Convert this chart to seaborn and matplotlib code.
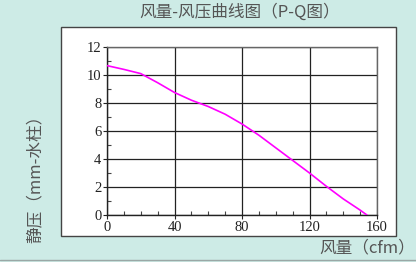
import matplotlib
matplotlib.use("Agg")
import matplotlib.pyplot as plt
import seaborn as sns
import pandas as pd
from matplotlib.patches import Rectangle
from matplotlib.lines import Line2D
from matplotlib.ticker import MultipleLocator

# Data
flow_cfm = [0, 10, 20, 30, 40, 50, 60, 70, 80, 90, 100, 110, 120, 130, 140, 150, 154]
pressure_mm = [10.67, 10.4, 10.1, 9.45, 8.75, 8.2, 7.75, 7.2, 6.5, 5.7, 4.8, 3.9, 3.0, 2.05, 1.15, 0.35, 0.0]
x_ticks = [0, 40, 80, 120, 160]
y_ticks = [0, 2, 4, 6, 8, 10, 12]
title = "风量-风压曲线图（P-Q图）"
xlabel = "风量（cfm）"
ylabel = "静压（mm-水柱）"

sns.set_style("white")
plt.rcParams['font.family'] = ['Noto Sans CJK SC', 'DejaVu Sans']

bg = "#cdebe6"
W, H = 416, 262
fig = plt.figure(figsize=(W / 100, H / 100), dpi=100, facecolor=bg)

# white panel
fig.patches.append(Rectangle((61 / W, 1 - 236 / H), (396 - 61) / W, (236 - 27) / H,
                             transform=fig.transFigure, facecolor="white",
                             edgecolor="#444444", linewidth=1.0, zorder=-1))
fig.lines.append(Line2D([0, 1], [1 - 259.5 / H, 1 - 259.5 / H], transform=fig.transFigure,
                        color="#9aa8a6", linewidth=1.0, zorder=-1))

ax = fig.add_axes([107 / W, 1 - 215 / H, (377 - 107) / W, (215 - 47) / H])
ax.set_zorder(2)
ax.set_facecolor("white")

df = pd.DataFrame({"Q": flow_cfm, "P": pressure_mm})
sns.lineplot(data=df, x="Q", y="P", ax=ax, color="#ff00ff", linewidth=1.2, zorder=3)

ax.set_xlim(0, 160)
ax.set_ylim(0, 12)
ax.set_xticks(x_ticks)
ax.set_yticks(y_ticks)
ax.xaxis.set_minor_locator(MultipleLocator(10))
ax.yaxis.set_minor_locator(MultipleLocator(1))
ax.grid(True, which="major", color="#222222", linewidth=0.9)
for s in ax.spines.values():
    s.set_color("#666666")
    s.set_linewidth(1.0)
ax.spines["left"].set_color("#222222")
ax.spines["bottom"].set_color("#222222")

serif = ["Liberation Serif", "DejaVu Serif"]
ax.set_xticklabels([str(v) for v in x_ticks], family=serif, fontsize=10.5)
ax.set_yticklabels([str(v) for v in y_ticks], family=serif, fontsize=10.5)
ax.tick_params(axis="both", which="major", direction="out", length=3, width=0.8,
               color="#222222", pad=1, labelcolor="#222222")
ax.tick_params(axis="both", which="minor", direction="in", length=3, width=0.8,
               color="#444444")
ax.tick_params(axis="x", which="both", bottom=True)
ax.tick_params(axis="y", which="both", left=True)
ax.set_xlabel("")
ax.set_ylabel("")

fig.text(240 / W, 1 - 12 / H, title, ha="center", va="center", fontsize=12, color="#555555")
fig.text(35 / W, 1 - 175 / H, ylabel, ha="center", va="center", rotation=90,
         fontsize=12, color="#555555")
fig.text(415 / W, 1 - 248 / H, xlabel, ha="right", va="center", fontsize=12, color="#555555")

fig.savefig("out.png", dpi=100, facecolor=bg)
